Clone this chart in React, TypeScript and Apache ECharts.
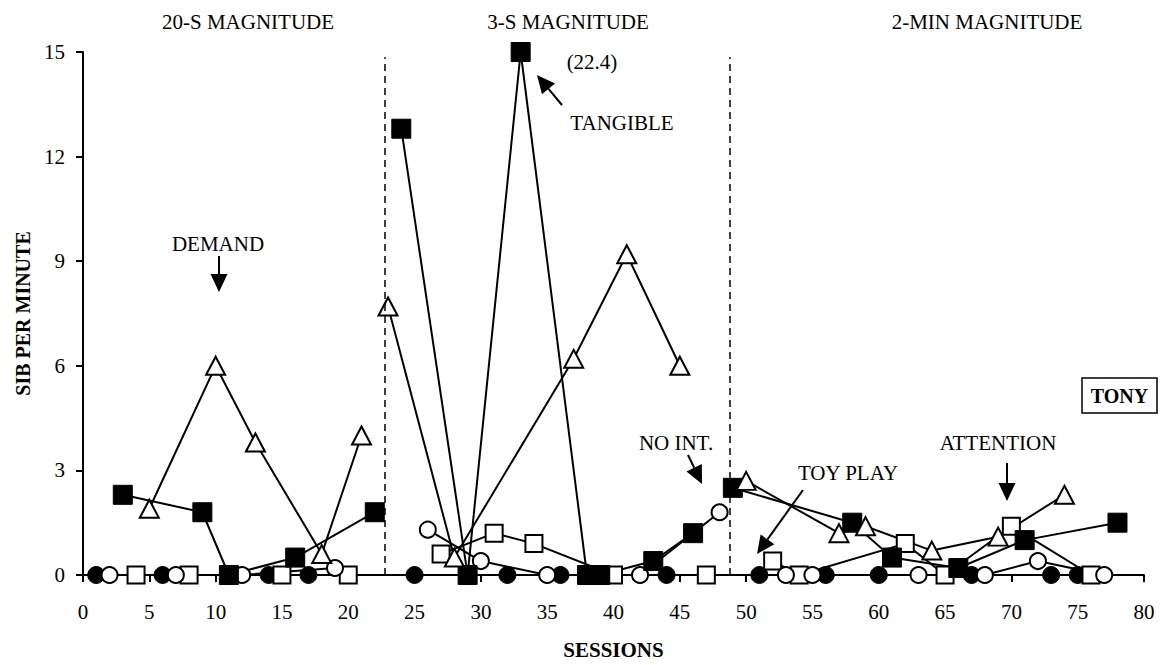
import React, { useEffect, useRef } from "react";
import * as echarts from "echarts";

// ---- Data (sessions / SIB per minute) ----
const phaseBoundaries = [22.75, 48.8];
const phaseTitles = ["20-S MAGNITUDE", "3-S MAGNITUDE", "2-MIN MAGNITUDE"];
const xTickValues = [0, 5, 10, 15, 20, 25, 30, 35, 40, 45, 50, 55, 60, 65, 70, 75, 80];
const yTickValues = [0, 3, 6, 9, 12, 15];

const toyPlaySessions = [1, 6, 14, 17, 25, 32, 36, 44, 51, 56, 60, 67, 73, 75];
const toyPlayRates = [0, 0, 0, 0, 0, 0, 0, 0, 0, 0, 0, 0, 0, 0];

const attentionSessions = [4, 8, 15, 20, 27, 31, 34, 40, 47, 52, 54, 62, 65, 70, 76];
const attentionRates = [0, 0, 0, 0, 0.6, 1.2, 0.9, 0, 0, 0.4, 0, 0.9, 0, 1.4, 0];

const noIntSessions = [2, 7, 12, 19, 26, 30, 35, 42, 48, 53, 55, 63, 68, 72, 77];
const noIntRates = [0, 0, 0, 0.2, 1.3, 0.4, 0, 0, 1.8, 0, 0, 0, 0, 0.4, 0];

// session 33 is plotted at the top of the axis (actual value 22.4)
const tangibleSessions = [3, 9, 11, 16, 22, 24, 29, 33, 38, 39, 43, 46, 49, 58, 61, 66, 71, 78];
const tangibleRates = [2.3, 1.8, 0, 0.5, 1.8, 12.8, 0, 15, 0, 0, 0.4, 1.2, 2.5, 1.5, 0.5, 0.2, 1.0, 1.5];

const demandSessions = [5, 10, 13, 18, 21, 23, 28, 37, 41, 45, 50, 57, 59, 64, 69, 74];
const demandRates = [1.9, 6, 3.8, 0.6, 4.0, 7.7, 0.5, 6.2, 9.2, 6.0, 2.7, 1.2, 1.4, 0.7, 1.1, 2.3];

const FONT = '"Liberation Serif", "Times New Roman", serif';

function splitPhases(sessions: number[], rates: number[]) {
  const parts: number[][][] = [[], [], []];
  sessions.forEach((s, i) => {
    const p = s < phaseBoundaries[0] ? 0 : s < phaseBoundaries[1] ? 1 : 2;
    parts[p].push([s, rates[i]]);
  });
  return parts;
}

function arrow(sx: number, sy: number, tx: number, ty: number) {
  const L = 18;
  const W = 17;
  const dx = tx - sx;
  const dy = ty - sy;
  const len = Math.sqrt(dx * dx + dy * dy);
  const ux = dx / len;
  const uy = dy / len;
  const bx = tx - ux * L;
  const by = ty - uy * L;
  const px = -uy;
  const py = ux;
  return [
    {
      type: "line",
      shape: { x1: sx, y1: sy, x2: bx, y2: by },
      style: { stroke: "#000", lineWidth: 2 },
    },
    {
      type: "polygon",
      shape: {
        points: [
          [tx, ty],
          [bx + (px * W) / 2, by + (py * W) / 2],
          [bx - (px * W) / 2, by - (py * W) / 2],
        ],
      },
      style: { fill: "#000" },
    },
  ];
}

function label(text: string, x: number, y: number, bold = false, size = 21) {
  return {
    type: "text",
    x,
    y,
    style: {
      text,
      fontSize: size,
      fontFamily: FONT,
      fontWeight: bold ? "bold" : "normal",
      fill: "#000",
      align: "center",
      verticalAlign: "middle",
    },
  };
}

export default function App() {
  const ref = useRef<HTMLDivElement>(null);

  useEffect(() => {
    document.body.style.margin = "0";
    if (!ref.current) return;
    const chart = echarts.init(ref.current, undefined, { renderer: "svg" });

    const conditions = [
      { name: "Toy Play", sessions: toyPlaySessions, rates: toyPlayRates, symbol: "circle", size: 17, fill: "#000", border: 1 },
      { name: "Attention", sessions: attentionSessions, rates: attentionRates, symbol: "rect", size: 17, fill: "#fff", border: 2 },
      { name: "No Interaction", sessions: noIntSessions, rates: noIntRates, symbol: "circle", size: 16, fill: "#fff", border: 2 },
      { name: "Tangible", sessions: tangibleSessions, rates: tangibleRates, symbol: "rect", size: 19, fill: "#000", border: 1 },
      { name: "Demand", sessions: demandSessions, rates: demandRates, symbol: "triangle", size: [19, 18], fill: "#fff", border: 2 },
    ];

    const series: any[] = [];
    conditions.forEach((c) => {
      const parts = splitPhases(c.sessions, c.rates);
      parts.forEach((data) => {
        series.push({
          type: "line",
          name: c.name,
          data,
          symbol: c.symbol,
          symbolSize: c.size,
          showAllSymbol: true,
          clip: false,
          lineStyle: { color: "#000", width: 2 },
          itemStyle: { color: c.fill, borderColor: "#000", borderWidth: c.border, opacity: 1 },
          emphasis: { disabled: true },
          z: 2,
        });
      });
    });

    series.push({
      type: "line",
      name: "phases",
      data: [],
      silent: true,
      markLine: {
        silent: true,
        symbol: ["none", "none"],
        label: { show: false },
        lineStyle: { color: "#000", width: 1.5, type: [7, 5] },
        data: phaseBoundaries.map((b) => [{ coord: [b, 0] }, { coord: [b, 14.85] }]),
      },
    });

    const graphic: any[] = [
      label(phaseTitles[0], 248, 22),
      label(phaseTitles[1], 568, 22),
      label(phaseTitles[2], 987, 22),
      label("(22.4)", 592, 62),
      label("TANGIBLE", 622, 123),
      ...arrow(562, 105, 537, 75),
      label("DEMAND", 218, 244),
      ...arrow(219, 256, 219, 292),
      label("NO INT.", 676, 443),
      ...arrow(688, 455, 702, 484),
      label("TOY PLAY", 848, 473),
      ...arrow(803, 490, 757, 554),
      label("ATTENTION", 998, 443),
      ...arrow(1007, 463, 1007, 501),
      {
        type: "rect",
        shape: { x: 1082, y: 378, width: 75, height: 35 },
        style: { fill: "#fff", stroke: "#000", lineWidth: 1.5 },
      },
      label("TONY", 1119.5, 396, true, 20),
    ];

    chart.setOption({
      animation: false,
      backgroundColor: "#fff",
      grid: { left: 83, right: 24, top: 52, bottom: 90, containLabel: false },
      xAxis: {
        type: "value",
        min: xTickValues[0],
        max: xTickValues[xTickValues.length - 1],
        interval: 5,
        name: "SESSIONS",
        nameLocation: "middle",
        nameGap: 64,
        nameTextStyle: { fontSize: 21, fontWeight: "bold", fontFamily: FONT, color: "#000" },
        axisLine: { show: true, onZero: false, lineStyle: { color: "#000", width: 2 } },
        axisTick: { show: true, inside: false, length: 7, lineStyle: { color: "#000", width: 2 } },
        axisLabel: { fontSize: 21, fontFamily: FONT, color: "#000", margin: 26 },
        splitLine: { show: false },
      },
      yAxis: {
        type: "value",
        min: yTickValues[0],
        max: yTickValues[yTickValues.length - 1],
        interval: 3,
        name: "SIB PER MINUTE",
        nameLocation: "middle",
        nameRotate: 90,
        nameGap: 48,
        nameTextStyle: { fontSize: 20, fontWeight: "bold", fontFamily: FONT, color: "#000" },
        axisLine: { show: true, onZero: false, lineStyle: { color: "#000", width: 2 } },
        axisTick: { show: true, inside: false, length: 7, lineStyle: { color: "#000", width: 2 } },
        axisLabel: { fontSize: 21, fontFamily: FONT, color: "#000", margin: 18 },
        splitLine: { show: false },
      },
      series,
      graphic,
    });

    return () => {
      chart.dispose();
    };
  }, []);

  return <div ref={ref} style={{ width: 1168, height: 665 }} />;
}
